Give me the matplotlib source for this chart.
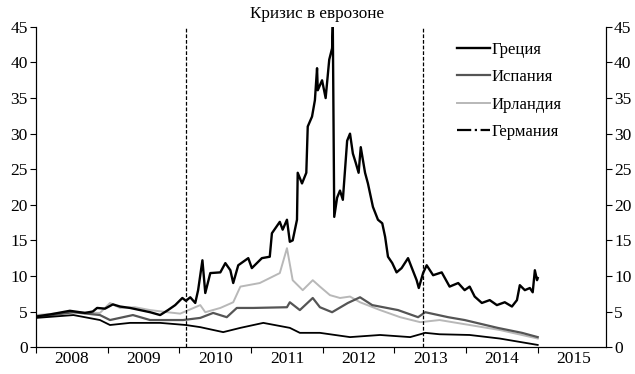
import matplotlib
matplotlib.use("Agg")
import matplotlib.pyplot as plt
from matplotlib.lines import Line2D

plt.rcParams['font.family'] = ['Liberation Serif', 'DejaVu Serif']

# Greece
greece_t = [2008.00, 2008.20, 2008.47, 2008.68, 2008.79, 2008.85, 2008.96, 2009.07, 2009.17, 2009.31,
            2009.59, 2009.73, 2009.84, 2009.94, 2010.04, 2010.09, 2010.15, 2010.22, 2010.26, 2010.32,
            2010.36, 2010.43, 2010.57, 2010.64, 2010.71, 2010.75, 2010.82, 2010.96, 2011.01, 2011.15,
            2011.26, 2011.29, 2011.40, 2011.44, 2011.50, 2011.54, 2011.58, 2011.64, 2011.65, 2011.71,
            2011.77, 2011.79, 2011.85, 2011.89, 2011.92, 2011.93, 2011.99, 2012.04, 2012.09, 2012.13,
            2012.14, 2012.16, 2012.20, 2012.24, 2012.28, 2012.34, 2012.38, 2012.42, 2012.46, 2012.50,
            2012.53, 2012.59, 2012.63, 2012.70, 2012.77, 2012.83, 2012.87, 2012.91, 2012.97, 2013.03,
            2013.10, 2013.19, 2013.24, 2013.31, 2013.34, 2013.40, 2013.45, 2013.54, 2013.66, 2013.77,
            2013.89, 2013.98, 2014.05, 2014.12, 2014.22, 2014.33, 2014.43, 2014.54, 2014.64, 2014.71,
            2014.75, 2014.82, 2014.89, 2014.93, 2014.96, 2014.99, 2015.00]
greece_v = [4.3, 4.6, 5.1, 4.8, 5.0, 5.5, 5.4, 6.0, 5.7, 5.5,
            4.9, 4.5, 5.2, 5.9, 6.9, 6.5, 7.0, 6.2, 8.0, 12.2,
            7.6, 10.4, 10.5, 11.8, 10.8, 9.0, 11.5, 12.5, 11.1, 12.5,
            12.7, 16.0, 17.6, 16.5, 17.9, 14.8, 15.0, 17.9, 24.5, 23.0,
            24.5, 31.0, 32.4, 34.7, 39.2, 36.1, 37.5, 35.0, 40.4, 42.0,
            45.0, 18.3, 21.0, 22.0, 20.7, 29.0, 30.0, 27.2, 25.9, 24.5,
            28.1, 24.5, 23.0, 19.7, 17.9, 17.4, 15.5, 12.7, 11.8, 10.5,
            11.1, 12.5, 11.2, 9.4, 8.3, 10.4, 11.5, 10.1, 10.5, 8.5,
            9.0, 8.0, 8.5, 7.1, 6.2, 6.6, 5.9, 6.3, 5.7, 6.6,
            8.7, 8.0, 8.3, 7.7, 10.8, 9.4, 9.7]

# Spain
spain_t = [2008.00, 2008.52, 2008.89, 2009.03, 2009.35, 2009.59, 2009.83, 2010.05, 2010.29, 2010.47,
           2010.66, 2010.80, 2011.03, 2011.50, 2011.54, 2011.68, 2011.86, 2011.96, 2012.13, 2012.35,
           2012.52, 2012.69, 2013.05, 2013.33, 2013.43, 2013.75, 2013.98, 2014.44, 2014.78, 2015.00]
spain_v = [4.2, 4.9, 4.5, 3.8, 4.5, 3.8, 3.8, 3.8, 4.1, 4.8,
           4.2, 5.5, 5.5, 5.6, 6.3, 5.2, 6.9, 5.6, 4.9, 6.2,
           7.0, 5.9, 5.2, 4.2, 4.9, 4.2, 3.8, 2.7, 2.0, 1.4]

# Ireland
ireland_t = [2008.00, 2008.52, 2008.89, 2009.03, 2009.17, 2009.38, 2009.59, 2009.83, 2010.01, 2010.29,
             2010.36, 2010.57, 2010.75, 2010.85, 2011.12, 2011.40, 2011.50, 2011.58, 2011.72, 2011.86,
             2011.96, 2012.10, 2012.24, 2012.38, 2012.52, 2012.80, 2013.08, 2013.36, 2013.63, 2014.05,
             2014.47, 2015.00]
ireland_v = [4.5, 4.9, 4.8, 6.2, 5.5, 5.6, 5.2, 4.9, 4.7, 5.9,
             4.9, 5.5, 6.3, 8.5, 9.0, 10.4, 13.9, 9.4, 8.0, 9.4,
             8.5, 7.3, 6.9, 7.1, 6.3, 5.2, 4.2, 3.5, 3.8, 3.1,
             2.4, 1.2]

# Germany
germany_t = [2008.00, 2008.52, 2008.89, 2009.03, 2009.31, 2009.73, 2010.09, 2010.29, 2010.61, 2010.85,
             2011.17, 2011.54, 2011.68, 2011.96, 2012.38, 2012.80, 2013.22, 2013.43, 2013.63, 2014.05,
             2014.47, 2015.00]
germany_v = [4.1, 4.5, 3.8, 3.1, 3.4, 3.4, 3.1, 2.8, 2.1, 2.7,
             3.4, 2.7, 2.0, 2.0, 1.4, 1.7, 1.4, 2.0, 1.8, 1.7,
             1.2, 0.3]

events = [2010.09, 2013.40]
years = [2008, 2009, 2010, 2011, 2012, 2013, 2014, 2015]

fig = plt.figure(figsize=(6.35, 3.74), dpi=100)
ax = fig.add_axes([0.057, 0.072, 0.897, 0.856])

ax.plot(ireland_t, ireland_v, color='#b8b8b8', lw=1.4)
ax.plot(spain_t, spain_v, color='#555555', lw=1.6)
ax.plot(germany_t, germany_v, color='black', lw=1.3)
ax.plot(greece_t, greece_v, color='black', lw=1.7)
for e in events:
    ax.axvline(e, color='black', lw=0.9, ls=(0, (3, 1.5)))

ax.set_xlim(2008, 2015.95)
ax.set_ylim(0, 45)
ax.set_yticks(range(0, 46, 5))
ax.set_xticks(years)
ax.set_xticklabels([])
ax.set_xticks([y + 0.5 for y in years], minor=True)
ax.set_xticklabels([str(y) for y in years], minor=True)
ax.tick_params(axis='x', which='minor', length=0, labelsize=12.5, pad=3)
ax.tick_params(axis='x', which='major', length=4, direction='out')
ax.tick_params(axis='y', labelsize=12.5, length=4, direction='out', pad=2)
ax.spines['top'].set_visible(False)

ax2 = ax.twinx()
ax2.set_ylim(0, 45)
ax2.set_yticks(range(0, 46, 5))
ax2.tick_params(axis='y', labelsize=12.5, length=4, direction='out', pad=2)
ax2.spines['top'].set_visible(False)

handles = [Line2D([], [], color='black', lw=1.7),
           Line2D([], [], color='#555555', lw=1.6),
           Line2D([], [], color='#b8b8b8', lw=1.4),
           Line2D([], [], color='black', lw=1.6, ls='-.')]
labels = ['Греция', 'Испания', 'Ирландия', 'Германия']
ax.legend(handles, labels, loc='upper left', bbox_to_anchor=(0.712, 1.0), frameon=False,
          fontsize=12, handlelength=2.0, handletextpad=0.1, labelspacing=0.68)

fig.text(0.5, 0.962, 'Кризис в еврозоне', ha='center', va='center', fontsize=12.3)

fig.savefig('out.png', dpi=100)
